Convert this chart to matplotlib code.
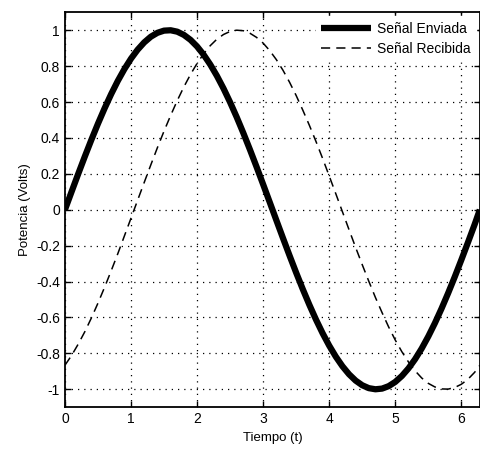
import matplotlib.pyplot as plt

# values (time step 0.1, last point at 2*pi)
tiempo = [0.0, 0.1, 0.2, 0.3, 0.4, 0.5, 0.6, 0.7, 0.8, 0.9, 1.0, 1.1, 1.2, 1.3, 1.4, 1.5,
          1.6, 1.7, 1.8, 1.9, 2.0, 2.1, 2.2, 2.3, 2.4, 2.5, 2.6, 2.7, 2.8, 2.9, 3.0, 3.1,
          3.2, 3.3, 3.4, 3.5, 3.6, 3.7, 3.8, 3.9, 4.0, 4.1, 4.2, 4.3, 4.4, 4.5, 4.6, 4.7,
          4.8, 4.9, 5.0, 5.1, 5.2, 5.3, 5.4, 5.5, 5.6, 5.7, 5.8, 5.9, 6.0, 6.1, 6.2, 6.28]
enviada = [0.0, 0.0998, 0.1987, 0.2955, 0.3894, 0.4794, 0.5646, 0.6442, 0.7174, 0.7833,
           0.8415, 0.8912, 0.932, 0.9636, 0.9854, 0.9975, 0.9996, 0.9917, 0.9738, 0.9463,
           0.9093, 0.8632, 0.8085, 0.7457, 0.6755, 0.5985, 0.5155, 0.4274, 0.335, 0.2392,
           0.1411, 0.0416, -0.0584, -0.1577, -0.2555, -0.3508, -0.4425, -0.5298, -0.6119,
           -0.6878, -0.7568, -0.8183, -0.8716, -0.9162, -0.9516, -0.9775, -0.9937, -0.9999,
           -0.9962, -0.9825, -0.9589, -0.9258, -0.8835, -0.8323, -0.7728, -0.7055, -0.6313,
           -0.5507, -0.4646, -0.3739, -0.2794, -0.1822, -0.0831, 0.0]
recibida = [-0.866, -0.812, -0.749, -0.68, -0.603, -0.52, -0.432, -0.34, -0.245, -0.146,
            -0.047, 0.053, 0.152, 0.25, 0.346, 0.438, 0.525, 0.608, 0.684, 0.753, 0.815,
            0.869, 0.914, 0.95, 0.976, 0.993, 1.0, 0.997, 0.983, 0.96, 0.928, 0.886, 0.836,
            0.777, 0.71, 0.636, 0.555, 0.47, 0.38, 0.286, 0.188, 0.089, -0.011, -0.111,
            -0.21, -0.306, -0.399, -0.489, -0.573, -0.653, -0.726, -0.791, -0.848, -0.897,
            -0.937, -0.967, -0.987, -0.998, -0.999, -0.99, -0.972, -0.944, -0.906, -0.867]

xticks = [0, 1, 2, 3, 4, 5, 6]
yticks = [1, 0.8, 0.6, 0.4, 0.2, 0, -0.2, -0.4, -0.6, -0.8, -1]
ytick_labels = ["1", "0.8", "0.6", "0.4", "0.2", "0", "-0.2", "-0.4", "-0.6", "-0.8", "-1"]

plt.rcParams['font.family'] = ['Liberation Sans', 'DejaVu Sans']

fig = plt.figure(figsize=(4.81, 4.53), dpi=100)
ax = fig.add_axes([0.135, 0.101, 0.863, 0.872])

ax.plot(tiempo, enviada, color="black", linewidth=4.5, solid_capstyle="butt",
        solid_joinstyle="round", label="Señal Enviada")
ax.plot(tiempo, recibida, color="black", linewidth=1.1, linestyle=(0, (6, 4)), label="Señal Recibida")

ax.set_xlim(0, 6.283)
ax.set_ylim(-1.1, 1.1)
ax.set_xticks(xticks)
ax.set_xticklabels([str(v) for v in xticks])
ax.set_yticks(yticks)
ax.set_yticklabels(ytick_labels)
ax.tick_params(direction="in", length=4, width=1, labelsize=10, top=True, right=True)
ax.grid(True, color="black", linestyle=(0, (1, 4)), linewidth=0.9)
for s in ax.spines.values():
    s.set_linewidth(1.3)

ax.set_xlabel("Tiempo (t)", fontsize=9.5)
ax.set_ylabel("Potencia (Volts)", fontsize=9.5)

leg = ax.legend(loc="upper right", fontsize=10, handlelength=3.6, frameon=True,
                fancybox=False, borderaxespad=0.3, labelspacing=0.4, handletextpad=0.4)
leg.get_frame().set_edgecolor("white")
leg.get_frame().set_alpha(1.0)

fig.savefig("out.png", dpi=100)
